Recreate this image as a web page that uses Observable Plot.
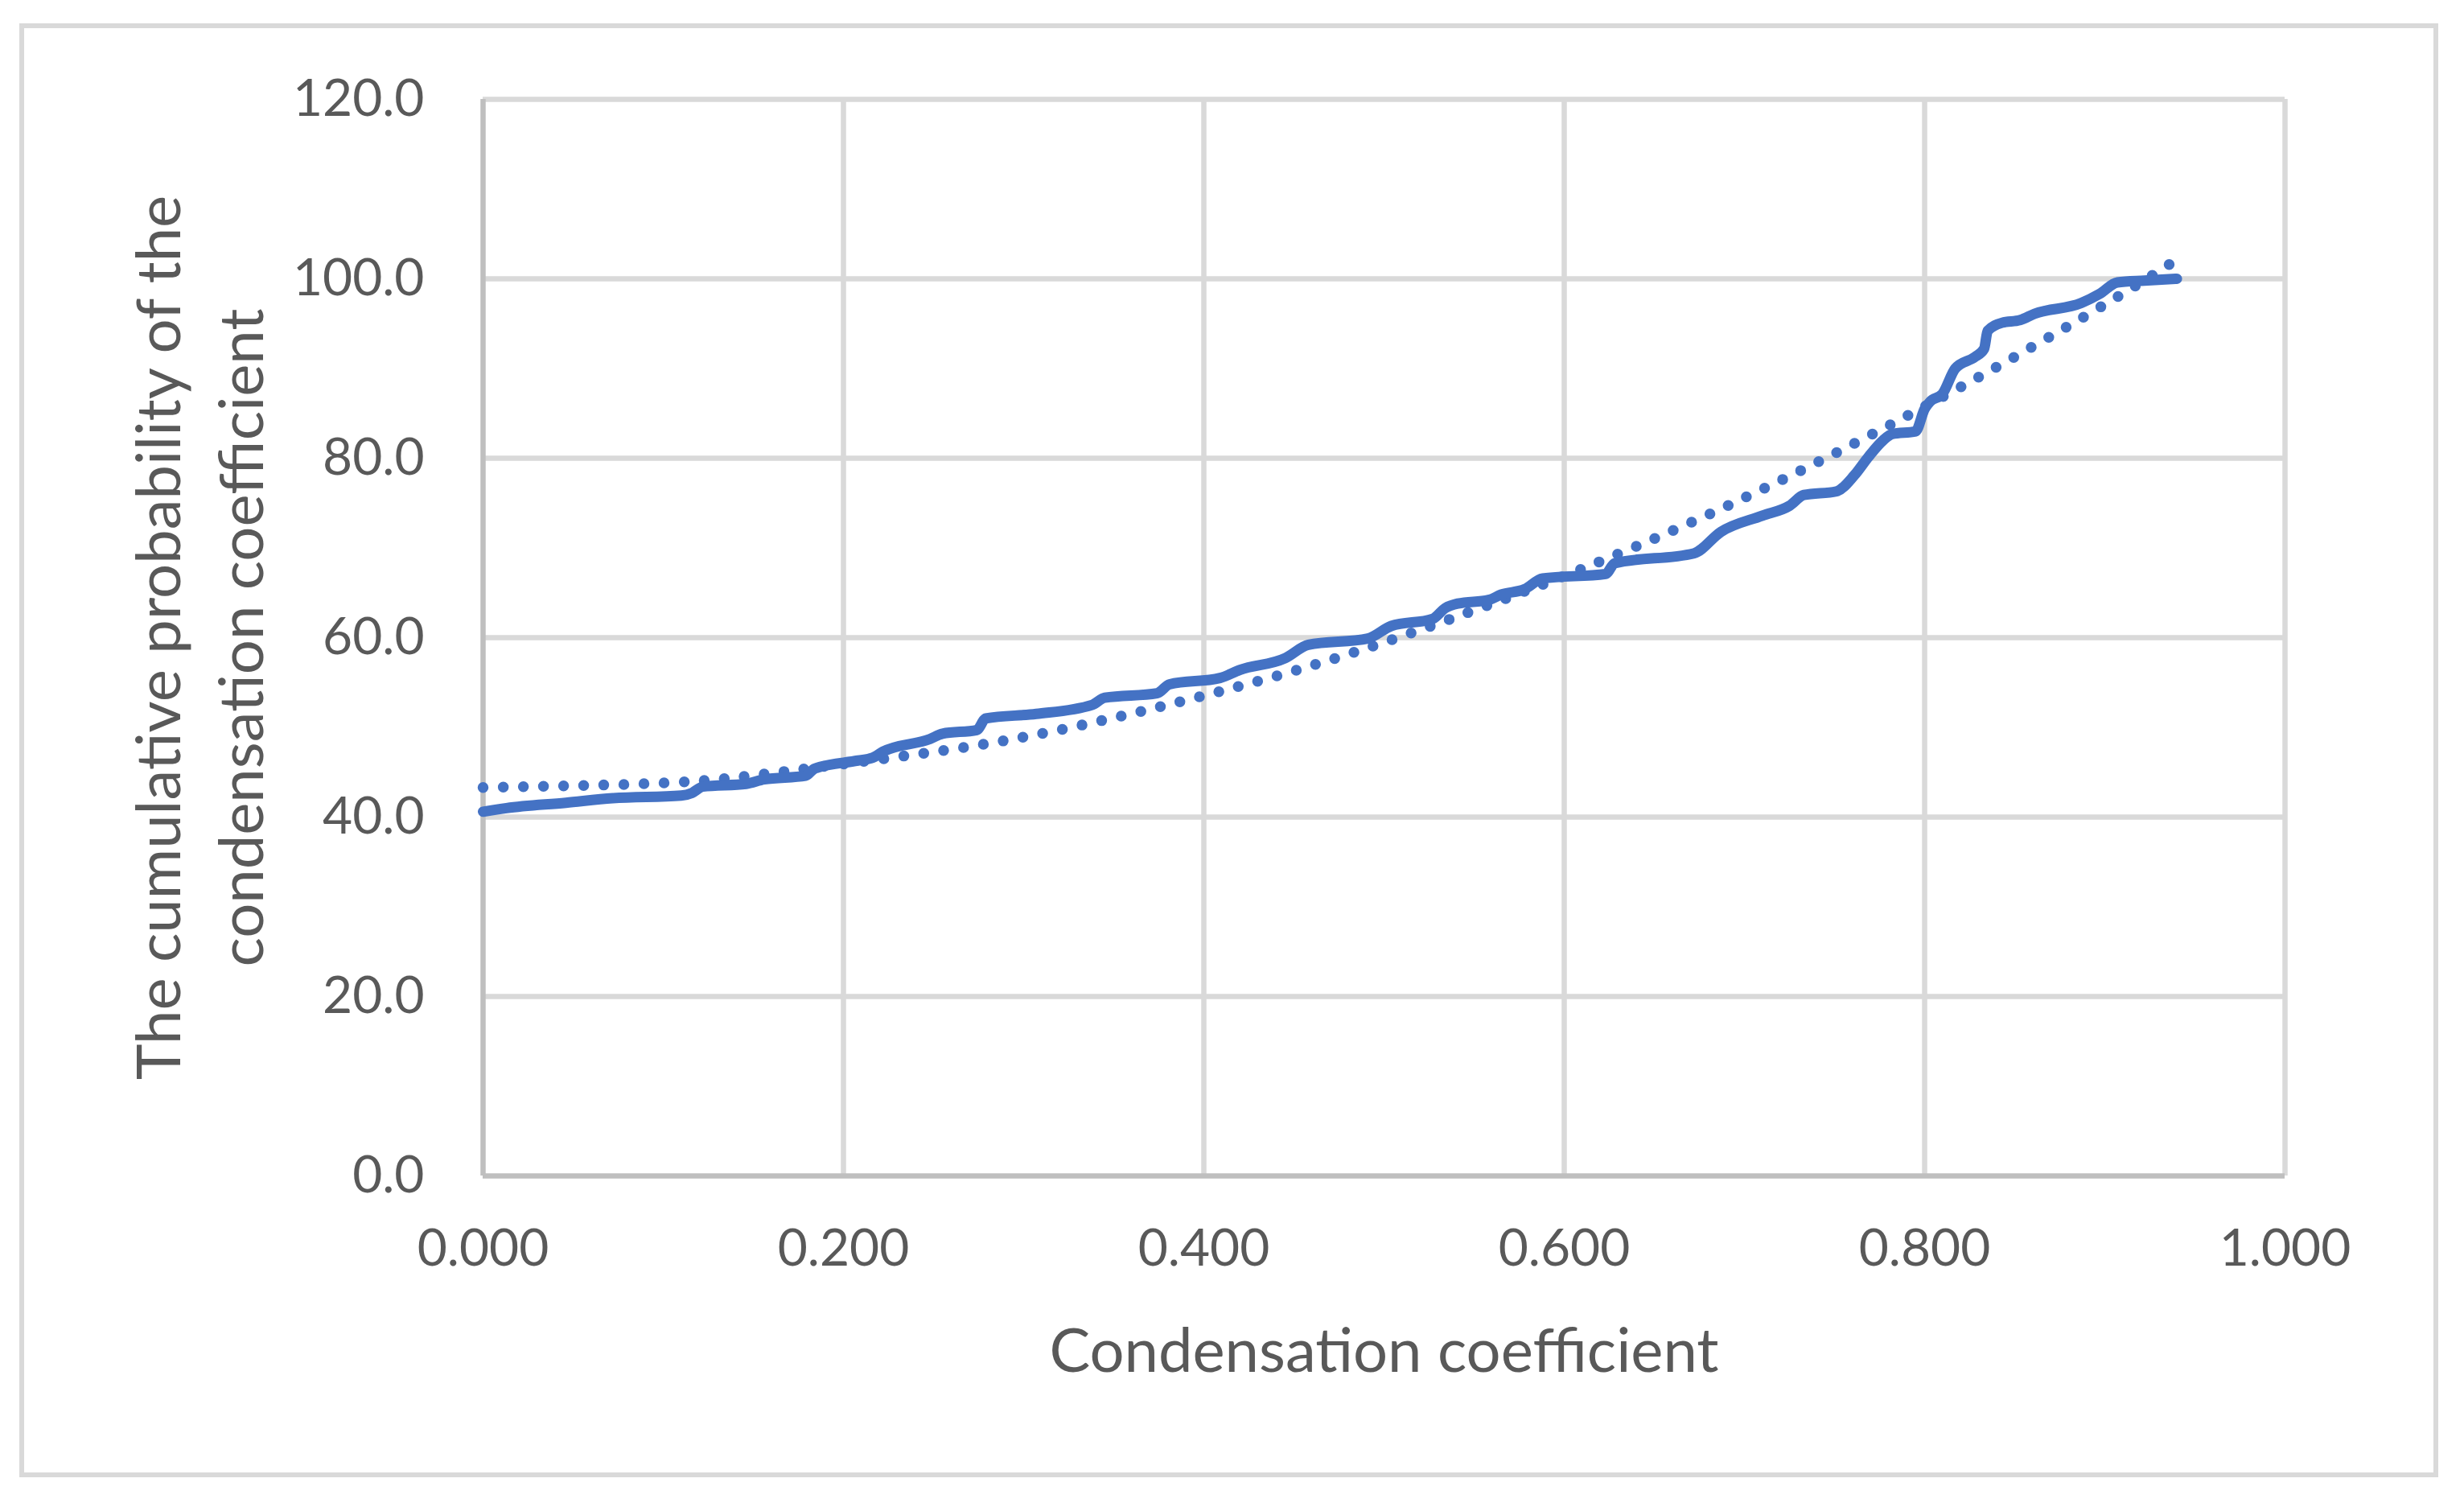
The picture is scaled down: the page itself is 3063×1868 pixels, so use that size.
<!DOCTYPE html>
<html><head><meta charset="utf-8">
<script src="https://cdn.jsdelivr.net/npm/d3@7"></script>
<script src="https://cdn.jsdelivr.net/npm/@observablehq/plot@0.6"></script>
<style>
html,body{margin:0;padding:0;background:#fff;}
#wrap{position:relative;width:3063px;height:1868px;overflow:hidden;background:#fff;}
#wrap svg{position:absolute;left:0;top:0;}
#border{position:absolute;left:24px;top:29px;width:2995px;height:1795px;border:6px solid #d9d9d9;pointer-events:none;}
</style></head><body><div id="wrap"><div id="border"></div></div>
<script>
// Tick values
const xTicks = [0, 0.2, 0.4, 0.6, 0.8, 1.0];
const yTicks = [0, 20, 40, 60, 80, 100, 120];

// Titles
const xTitle = "Condensation coefficient";
const yTitle = "The cumulative probability of the\ncondensation coefficient";

// Empirical cumulative probability (solid line)
const mainX = [0.000, 0.013, 0.046, 0.072, 0.110, 0.116, 0.122, 0.146, 0.156, 0.179, 0.184, 0.208, 0.216, 0.222, 0.248, 0.255, 0.274, 0.279, 0.307, 0.338, 0.345, 0.374, 0.381, 0.409, 0.420, 0.445, 0.458, 0.491, 0.504, 0.527, 0.534, 0.541, 0.558, 0.565, 0.578, 0.588, 0.623, 0.628, 0.672, 0.687, 0.710, 0.725, 0.733, 0.751, 0.761, 0.769, 0.777, 0.782, 0.795, 0.800, 0.803, 0.810, 0.817, 0.828, 0.833, 0.835, 0.843, 0.853, 0.861, 0.887, 0.897, 0.907, 0.922, 0.940];
const mainY = [40.6, 41.0, 41.6, 42.1, 42.4, 42.7, 43.4, 43.7, 44.2, 44.6, 45.4, 46.3, 46.6, 47.3, 48.7, 49.3, 49.7, 51.0, 51.5, 52.5, 53.3, 53.8, 54.8, 55.5, 56.4, 57.7, 59.2, 59.9, 61.3, 62.1, 63.3, 63.8, 64.2, 64.8, 65.4, 66.6, 67.1, 68.3, 69.4, 71.8, 73.6, 74.7, 75.9, 76.3, 78.1, 80.2, 82.0, 82.7, 83.0, 85.5, 86.3, 87.2, 90.0, 91.3, 92.2, 94.2, 95.1, 95.4, 96.1, 97.3, 98.3, 99.6, 99.8, 100.0];

// Trendline (dotted line)
const trendX = [0.000, 0.100, 0.156, 0.222, 0.289, 0.355, 0.420, 0.484, 0.548, 0.609, 0.671, 0.732, 0.791, 0.850, 0.908, 0.938];
const trendY = [43.3, 43.8, 44.8, 46.5, 48.5, 51.3, 54.6, 58.4, 62.9, 67.6, 72.9, 78.7, 84.8, 91.3, 98.1, 101.9];

const main = mainX.map((x, i) => ({x, y: mainY[i]}));
const trend = trendX.map((x, i) => ({x, y: trendY[i]}));

const blue = "#4472C4";
const chart = Plot.plot({
  width: 3063, height: 1868,
  marginLeft: 600, marginRight: 223, marginTop: 123, marginBottom: 407,
  style: {fontFamily: "Lato, 'Open Sans', sans-serif", fontSize: "64px", color: "#595959", background: "transparent"},
  x: {domain: [0, 1]},
  y: {domain: [0, 120]},
  marks: [
    Plot.gridY(yTicks.filter(d => d > 0), {stroke: "#d9d9d9", strokeWidth: 6.5, strokeOpacity: 1}),
    Plot.gridX(xTicks.filter(d => d > 0), {stroke: "#d9d9d9", strokeWidth: 6.5, strokeOpacity: 1}),
    Plot.ruleX([0], {stroke: "#bfbfbf", strokeWidth: 6.5}),
    Plot.ruleY([0], {stroke: "#bfbfbf", strokeWidth: 6.5}),
    Plot.axisY(yTicks, {tickSize: 0, tickPadding: 73, tickFormat: d => d.toFixed(1), label: null, fontSize: 64, fill: "#595959"}),
    Plot.axisX(xTicks, {tickSize: 0, tickPadding: 66, tickFormat: d => d.toFixed(3), label: null, fontSize: 64, fill: "#595959"}),
    Plot.line(trend, {x: "x", y: "y", stroke: blue, strokeWidth: 13.5, strokeDasharray: "0 25", strokeLinecap: "round", curve: "natural"}),
    Plot.line(main, {x: "x", y: "y", stroke: blue, strokeWidth: 13, curve: "monotone-x", strokeLinejoin: "round", strokeLinecap: "round"}),
    Plot.text([xTitle], {frameAnchor: "bottom", dy: 219, text: d => d, fontSize: 76, fill: "#595959", lineAnchor: "middle", textAnchor: "middle"}),
    Plot.text([yTitle], {frameAnchor: "left", dx: -358, rotate: -90, text: d => d, fontSize: 76, lineHeight: 1.36, fill: "#595959", lineAnchor: "middle", textAnchor: "middle"})
  ]
});
document.getElementById("wrap").appendChild(chart);
</script></body></html>
